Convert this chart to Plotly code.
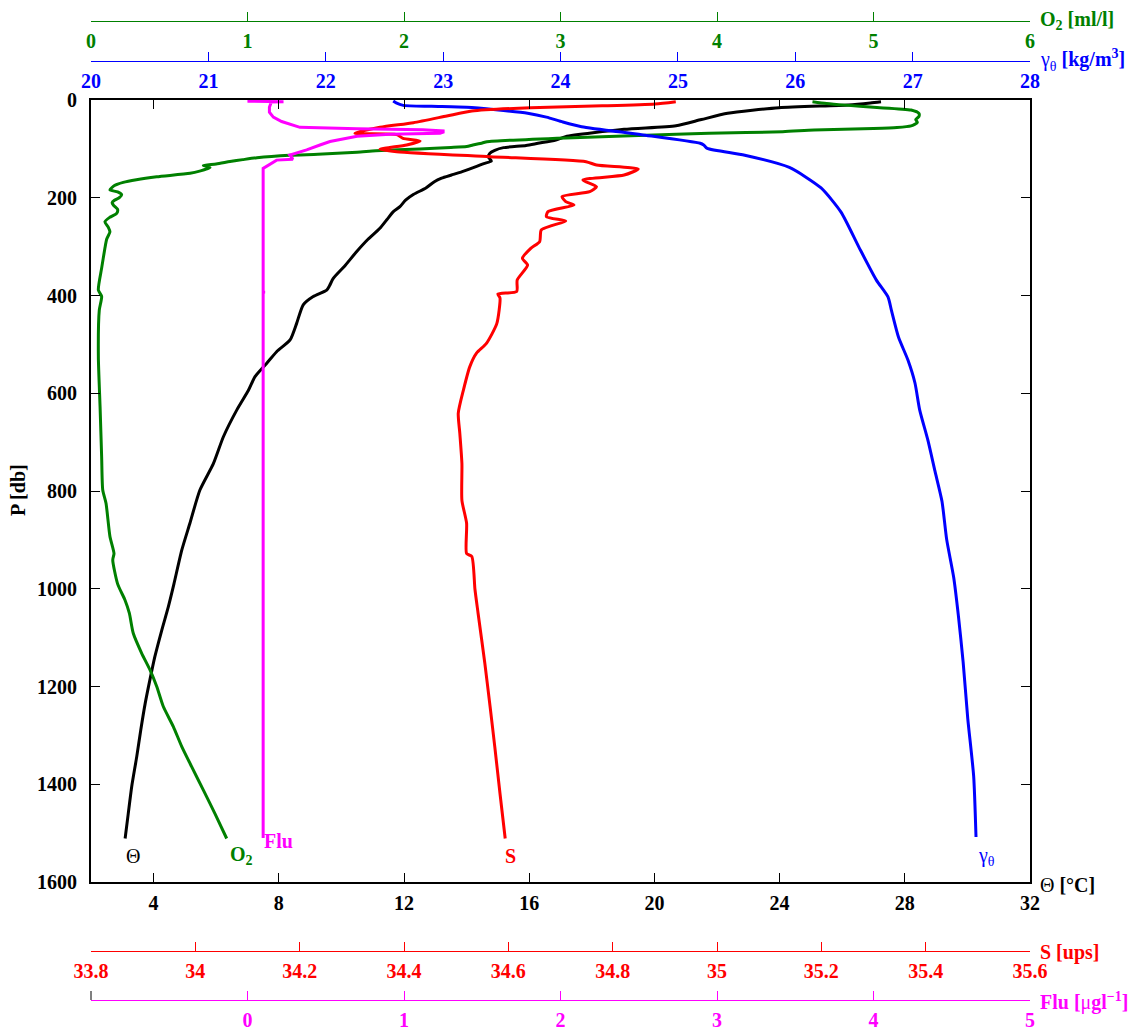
import plotly.graph_objects as go

# ---------------- data ----------------
theta_p = [3.4, 6, 10.2, 15.7, 27.3, 40, 52.5, 60, 75, 82, 88.6, 93, 97.5, 103, 109.1, 117, 124.8, 130, 136.4,
           146.6, 153.5, 160, 167.1, 180, 193, 205, 218.2, 228.5, 245, 262.6, 285, 310, 340, 365, 380, 389, 402,
           419, 457, 491, 515, 539, 566, 594, 634, 689, 744, 798, 866, 921, 990, 1037, 1085, 1139, 1187, 1235,
           1289, 1344, 1405, 1460, 1511]
theta_t = [27.24, 26.9, 26.19, 23.98, 22.34, 21.5, 20.69, 19.03, 17.16, 16.85, 16.28, 15.9, 15.18, 14.9, 14.74,
           14.70, 14.79, 14.55, 14.30, 13.86, 13.52, 13.2, 12.97, 12.7, 12.31, 12.05, 11.87, 11.66, 11.45, 11.23,
           10.85, 10.49, 10.1, 9.74, 9.62, 9.53, 9.10, 8.78, 8.57, 8.36, 7.93, 7.61, 7.24, 7.03, 6.66, 6.23, 5.91,
           5.48, 5.16, 4.90, 4.65, 4.47, 4.26, 4.04, 3.88, 3.73, 3.59, 3.46, 3.30, 3.19, 3.09]

o2_p = [3.4, 7, 10.5, 15, 20.5, 27.3, 34, 40, 46, 53, 56.5, 58.5, 61.4, 65, 68, 70.3, 77, 85.3, 88, 92, 95, 97,
        100, 104, 107, 111, 113, 118, 122, 126, 131, 134, 138, 141, 145, 150, 157, 163, 168.5, 175, 184, 188, 194,
        200, 205, 210, 215, 224, 232, 240, 249, 260, 269.5, 285, 303, 344, 389, 402, 430, 525, 628, 730, 798,
        825, 893, 928, 941, 990, 1023, 1050, 1091, 1132, 1166, 1200, 1241, 1282, 1323, 1364, 1412, 1460, 1511]
o2_v = [4.61, 4.70, 4.82, 5.0, 5.24, 5.29, 5.29, 5.27, 5.28, 5.24, 5.15, 5.00, 4.62, 4.42, 3.95, 3.74, 3.08,
        2.53, 2.50, 2.44, 2.40, 2.30, 2.10, 1.82, 1.70, 1.45, 1.27, 1.06, 0.97, 0.888, 0.80, 0.718, 0.76, 0.74,
        0.70, 0.633, 0.42, 0.29, 0.206, 0.15, 0.121, 0.17, 0.196, 0.18, 0.15, 0.135, 0.143, 0.17, 0.164, 0.12,
        0.089, 0.11, 0.121, 0.10, 0.089, 0.068, 0.047, 0.068, 0.053, 0.047, 0.058, 0.068, 0.075, 0.096, 0.121,
        0.147, 0.139, 0.17, 0.217, 0.245, 0.27, 0.324, 0.377, 0.42, 0.462, 0.526, 0.58, 0.643, 0.718, 0.792,
        0.867]

gam_p = [2, 6, 11, 13, 15, 20, 27, 35, 45, 54.6, 71, 88.6, 92, 99, 113, 138, 180, 229.5, 300, 368, 403, 431,
         485.5, 532, 579, 634, 696, 759, 821, 899, 977, 1055.5, 1149, 1266, 1383.5, 1508]
gam_v = [22.575, 22.60, 22.66, 22.9, 23.2, 23.45, 23.72, 23.88, 24.02, 24.18, 24.69, 25.19, 25.22, 25.25, 25.57,
         25.95, 26.22, 26.39, 26.54, 26.69, 26.79, 26.82, 26.88, 26.96, 27.02, 27.06, 27.13, 27.19, 27.25, 27.29,
         27.35, 27.39, 27.43, 27.47, 27.52, 27.54]

sal_p = [3.4, 8.2, 12, 15.7, 22.5, 32.7, 46.4, 55.9, 68.1, 70.6, 78.4, 83.9, 92, 100.9, 105.8, 116, 126.2, 133,
         141.2, 153.5, 163.7, 177.3, 187.6, 197.8, 208, 214.8, 228.5, 238.7, 247.6, 257.1, 266, 289.8, 303.5, 324,
         337.6, 368.3, 392, 397, 405, 457, 498, 518, 546, 593, 641, 682, 744, 819, 866, 928, 934, 1001, 1050,
         1153, 1241, 1323, 1419, 1511]
sal_v = [34.921, 34.881, 34.78, 34.643, 34.53, 34.482, 34.418, 34.354, 34.306, 34.386, 34.398, 34.431, 34.405,
         34.354, 34.386, 34.565, 34.749, 34.769, 34.849, 34.822, 34.743, 34.769, 34.756, 34.703, 34.710, 34.726,
         34.676, 34.673, 34.710, 34.683, 34.663, 34.660, 34.643, 34.627, 34.637, 34.617, 34.616, 34.58, 34.584,
         34.578, 34.558, 34.539, 34.526, 34.514, 34.504, 34.507, 34.511, 34.511, 34.520, 34.520, 34.530, 34.536,
         34.542, 34.555, 34.565, 34.574, 34.584, 34.594]

flu_p = [1.5, 2.5, 3.5, 4.5, 6, 15, 25, 35, 44, 52, 56, 59, 61, 63.4, 66, 68, 70, 74, 77, 85, 92, 102, 112.5,
         118, 121, 123, 132, 140, 392, 393, 394, 1085, 1221, 1510]
flu_v = [0.05, 0.0, 0.23, 0.14, 0.15, 0.14, 0.14, 0.165, 0.218, 0.30, 0.335, 0.70, 1.12, 1.25, 1.25, 1.23, 0.91,
         0.70, 0.655, 0.527, 0.463, 0.378, 0.27, 0.28, 0.29, 0.186, 0.144, 0.10, 0.10, 0.11, 0.10, 0.10, 0.10,
         0.10]

theta_ticks = [4, 8, 12, 16, 20, 24, 28, 32]
p_ticks = [0, 200, 400, 600, 800, 1000, 1200, 1400, 1600]
o2_ticks = [0, 1, 2, 3, 4, 5, 6]
gam_ticks = [20, 21, 22, 23, 24, 25, 26, 27, 28]
sal_ticks = [33.8, 34.0, 34.2, 34.4, 34.6, 34.8, 35.0, 35.2, 35.4, 35.6]
sal_labels = ["33.8", "34", "34.2", "34.4", "34.6", "34.8", "35", "35.2", "35.4", "35.6"]
flu_ticks = [0, 1, 2, 3, 4, 5]

# ---------------- styling ----------------
W, H = 1143, 1032
FONT = "Liberation Serif"
FS = 20
BLACK, GREEN, BLUE, RED, MAG = "#000000", "#008000", "#0000ff", "#ff0000", "#ff00ff"

xl, xr = 91, 1030
yt, yb = 100, 882
xdom = [xl / W, xr / W]
ydom = [1 - yb / H, 1 - yt / H]


def py(ypix):
    return 1 - ypix / H


fig = go.Figure()
lw = 3
sm = 0.6
fig.add_trace(go.Scatter(x=theta_t, y=theta_p, mode="lines",
                         line=dict(color=BLACK, width=lw, shape="spline", smoothing=sm),
                         xaxis="x", yaxis="y", name="Θ"))
fig.add_trace(go.Scatter(x=o2_v, y=o2_p, mode="lines",
                         line=dict(color=GREEN, width=lw, shape="spline", smoothing=sm),
                         xaxis="x2", yaxis="y", name="O2"))
fig.add_trace(go.Scatter(x=gam_v, y=gam_p, mode="lines",
                         line=dict(color=BLUE, width=lw, shape="spline", smoothing=sm),
                         xaxis="x3", yaxis="y", name="γθ"))
fig.add_trace(go.Scatter(x=sal_v, y=sal_p, mode="lines",
                         line=dict(color=RED, width=lw, shape="spline", smoothing=sm),
                         xaxis="x4", yaxis="y", name="S"))
fig.add_trace(go.Scatter(x=flu_v, y=flu_p, mode="lines",
                         line=dict(color=MAG, width=lw),
                         xaxis="x5", yaxis="y", name="Flu"))


def tfont(c):
    return dict(family=FONT, size=FS, color=c, weight="bold")


def sec_axis(rng, ticks, color, ypix, text=None):
    d = dict(domain=xdom, range=rng, overlaying="x", anchor="free", position=py(ypix), side="bottom",
             tickmode="array", tickvals=ticks, ticks="inside", ticklen=9, tickwidth=1, tickcolor=color,
             showline=True, linecolor=color, linewidth=1, showgrid=False, zeroline=False,
             tickfont=tfont(color), ticklabelstandoff=2, automargin=False, ticklabeloverflow="allow")
    if text is not None:
        d["ticktext"] = text
    return d


fig.update_layout(
    width=W, height=H, margin=dict(l=0, r=0, t=0, b=0, pad=0),
    paper_bgcolor="white", plot_bgcolor="white", showlegend=False,
    font=dict(family=FONT, size=FS, color=BLACK),
    xaxis=dict(domain=xdom, range=[2, 32], tickmode="array", tickvals=theta_ticks, ticks="inside", ticklen=9,
               tickwidth=1, tickcolor=BLACK, showline=True, linecolor=BLACK, linewidth=2, mirror="ticks",
               showgrid=False, zeroline=False, tickfont=tfont(BLACK), ticklabelstandoff=2, automargin=False,
               anchor="y"),
    yaxis=dict(domain=ydom, range=[1600, 0], tickmode="array", tickvals=p_ticks, ticks="inside", ticklen=9,
               tickwidth=1, tickcolor=BLACK, showline=True, linecolor=BLACK, linewidth=2, mirror="ticks",
               showgrid=False, zeroline=False, tickfont=tfont(BLACK), ticklabelstandoff=8, automargin=False,
               anchor="x"),
    xaxis2=sec_axis([0, 6], o2_ticks, GREEN, 21),
    xaxis3=sec_axis([20, 28], gam_ticks, BLUE, 60.5),
    xaxis4=sec_axis([33.8, 35.6], sal_ticks, RED, 951, sal_labels),
    xaxis5=sec_axis([-1, 5], flu_ticks, MAG, 1000),
)

# black end tick at the left of the Flu axis
fig.add_shape(type="line", xref="paper", yref="paper", x0=xdom[0], x1=xdom[0], y0=py(1000), y1=py(991),
              line=dict(color=BLACK, width=1))

ann = []


def add_text(text, x, y, color, xanchor="left", yanchor="middle", **kw):
    ann.append(dict(text=text, x=x, y=y, xref="paper", yref="paper", xanchor=xanchor, yanchor=yanchor,
                    showarrow=False, font=dict(family=FONT, size=FS, color=color), **kw))


tx = 1038 / W
add_text("<b>O<sub>2</sub> [ml/l]</b>", tx, py(20), GREEN)
add_text("γ<sub>θ</sub> <b>[kg/m<sup>3</sup>]</b>", tx, py(60), BLUE)
add_text("Θ <b>[°C]</b>", tx, py(885), BLACK)
add_text("<b>S [ups]</b>", tx, py(952), RED)
add_text("<b>Flu [</b>μ<b>gl<sup>−1</sup>]</b>", tx, py(1001), MAG)
add_text("<b>P [db]</b>", 18 / W, py(490), BLACK, xanchor="center", textangle=-90)


# series labels anchored at the deepest point of each profile
def end_label(text, xs, ys, axis, color, xshift, yshift, xanchor="center"):
    ann.append(dict(text=text, x=xs[-1], y=ys[-1], xref=axis, yref="y", xanchor=xanchor, yanchor="middle",
                    xshift=xshift, yshift=yshift, showarrow=False,
                    font=dict(family=FONT, size=FS, color=color)))


end_label("Θ", theta_t, theta_p, "x", BLACK, 8, -17)
end_label("<b>O<sub>2</sub></b>", o2_v, o2_p, "x2", GREEN, 15, -17)
end_label("<b>Flu</b>", flu_v, flu_p, "x5", MAG, -1, -3, xanchor="left")
end_label("<b>S</b>", sal_v, sal_p, "x4", RED, 5, -17)
end_label("γ<sub>θ</sub>", gam_v, gam_p, "x3", BLUE, 10, -19)

fig.update_layout(annotations=ann)

fig.write_html("out.html", config={"displayModeBar": False},
               post_script="document.body.style.margin='0';")
